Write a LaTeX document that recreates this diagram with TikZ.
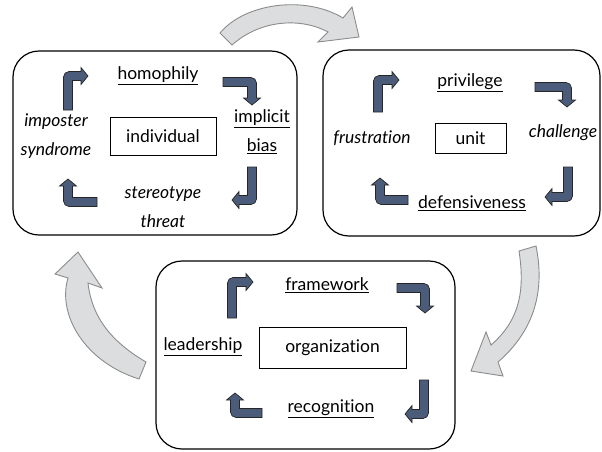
\documentclass[tikz,border=0pt]{standalone}
\usepackage{fontspec}
\setmainfont{Lato}[Ligatures={NoCommon}]
\definecolor{cycfill}{RGB}{74,92,122}
\definecolor{flowfill}{RGB}{220,221,223}
\definecolor{flowline}{RGB}{140,140,140}
\newcommand\lbfont{\fontsize{17.5pt}{29pt}\selectfont}
\newcommand\bentarr[5]{\begin{scope}[shift={(#1,#2)},rotate=#3]
 \draw[cyc] (-4.5,0) -- (-4.5,#4-1) arc[start angle=180,end angle=90,radius=5.5] -- (#5-7,#4+4.5) -- (#5-7,#4+8.5) -- (#5,#4) -- (#5-7,#4-8.5) -- (#5-7,#4-4.5) -- (4.5,#4-4.5) -- (4.5,0) -- cycle;
\end{scope}}
\tikzset{
 panel/.style={draw=black, line width=1.2pt, rounded corners=26pt},
 core/.style={draw=black, line width=0.9pt, inner sep=0, font=\lbfont},
 lbl/.style={font=\lbfont, align=center, inner sep=0},
 cyc/.style={fill=cycfill, draw=black!85, line width=0.7pt},
 flow/.style={fill=flowfill, draw=flowline, line width=0.9pt},
}
\begin{document}
\begin{tikzpicture}[x=1pt,y=1pt]
\useasboundingbox (0,0) rectangle (602,-451);
% panels
\node[panel, minimum width=284pt, minimum height=184pt] (p1) at (155,-143) {};
\node[panel, minimum width=277pt, minimum height=186pt] (p2) at (461.5,-143) {};
\node[panel, minimum width=299pt, minimum height=188pt] (p3) at (305.5,-355) {};
% flow arrows between panels
\draw[flow] (220,-33) .. controls (245,-3) and (305,5) .. (343,-18) -- (352,-7) -- (359,-37) -- (318,-42) -- (328,-32) .. controls (300,-17) and (260,-20) .. (232,-45) -- cycle;
\draw[flow] (536,-246) .. controls (545,-290) and (535,-330) .. (498,-362) -- (503,-376) -- (471,-371) -- (486,-332) -- (491,-345) .. controls (520,-320) and (525,-290) .. (519,-251) -- cycle;
\draw[flow] (146,-362) .. controls (112,-342) and (92,-318) .. (88,-283) -- (102,-288) -- (78,-252) -- (55,-274) -- (68,-278) .. controls (57,-315) and (85,-362) .. (139,-379) -- cycle;
% panel 1
\node[core, minimum width=106pt, minimum height=38pt] (c1) at (163,-136) {individual};
\node[lbl] (homophily) at (158,-76) {\underline{homophily}};
\node[lbl] (bias) at (262,-132) {\underline{implicit}\\\underline{bias}};
\node[lbl] (threat) at (163,-207) {\itshape stereotype\\\itshape threat};
\node[lbl] (imposter) at (56,-136) {\itshape imposter\\\itshape syndrome};
\bentarr{68}{-110}{0}{34}{20}
\bentarr{223}{-82}{-90}{29}{23}
\bentarr{252}{-167}{180}{33}{20}
\bentarr{97}{-202}{90}{29}{23}
% panel 2
\node[core, minimum width=71pt, minimum height=30pt] (c2) at (470.5,-138) {unit};
\node[lbl] (privilege) at (470,-83) {\underline{privilege}};
\node[lbl] (challenge) at (563,-133) {\itshape challenge};
\node[lbl] (defensiveness) at (472,-203) {\underline{defensiveness}};
\node[lbl] (frustration) at (372,-138) {\itshape frustration};
\bentarr{378}{-112}{0}{32}{21}
\bentarr{535}{-87}{-90}{32}{20}
\bentarr{568}{-167}{180}{30}{23}
\bentarr{408}{-200}{90}{28}{22}
% panel 3
\node[core, minimum width=147pt, minimum height=41pt] (c3) at (332.5,-347.5) {organization};
\node[lbl] (framework) at (327,-285) {\underline{framework}};
\node[lbl] (recognition) at (331,-409) {\underline{recognition}};
\node[lbl] (leadership) at (203,-347) {\underline{leadership}};
\bentarr{232}{-318}{0}{36}{21}
\bentarr{397}{-288}{-90}{28}{25}
\bentarr{424}{-380}{180}{34}{19}
\bentarr{262}{-413}{90}{27}{20}
\end{tikzpicture}
\end{document}
